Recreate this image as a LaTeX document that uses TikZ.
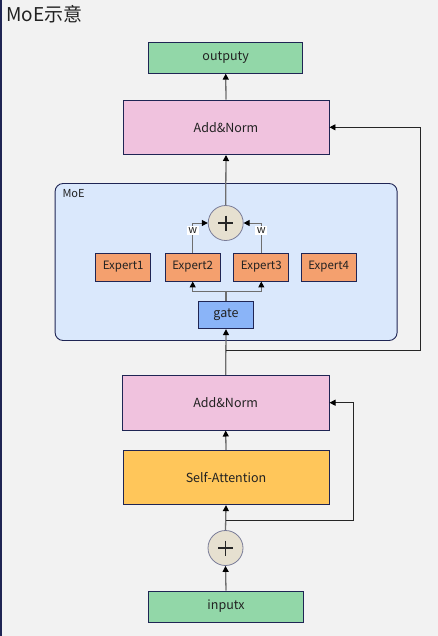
\documentclass[tikz,border=0pt]{standalone}
\usepackage{fontspec}
\setmainfont{Noto Sans CJK SC}
\usetikzlibrary{arrows.meta,calc}
\definecolor{bg}{HTML}{F2F2F2}
\definecolor{navy}{HTML}{1F2554}
\definecolor{cgreen}{HTML}{92D7A8}
\definecolor{cpink}{HTML}{F0C2DE}
\definecolor{corange}{HTML}{F4A06E}
\definecolor{cyellow}{HTML}{FFC65A}
\definecolor{cgate}{HTML}{8AB4F8}
\definecolor{cmoe}{HTML}{DAE8FC}
\definecolor{cplus}{HTML}{E6E0D0}
\definecolor{cline}{HTML}{6E6E6E}
\definecolor{ctext}{HTML}{222222}
\begin{document}
\begin{tikzpicture}[x=1pt,y=-1pt,
  box/.style={draw=navy,line width=0.9pt,rectangle,inner sep=0pt,text=ctext,font=\fontsize{12.5}{14}\selectfont},
  ebox/.style={box,fill=corange,minimum width=55pt,minimum height=28pt,font=\fontsize{11.5}{13}\selectfont},
  plusnode/.style={circle,draw=navy!60,fill=cplus,line width=0.8pt,minimum size=35pt,inner sep=0pt},
  flow/.style={draw=cline,line width=1.3pt,-{Triangle[length=6pt,width=6pt,color=black]}},
  flowplain/.style={draw=cline,line width=1.3pt},
  res/.style={draw=black!85,line width=0.9pt,-{Triangle[length=6pt,width=6pt,color=black]}},
  wlab/.style={fill=white,inner sep=1.5pt,font=\fontsize{11}{12}\selectfont,text=ctext}
]
\fill[bg] (0,0) rectangle (438,636);
\useasboundingbox (0,0) rectangle (438,636);
\draw[navy,line width=1.5pt] (0.75,0) -- (0.75,636);
\node[anchor=base west,font=\fontsize{19}{21}\selectfont,text=ctext] (title) at (3,21.5) {MoE示意};

% MoE container
\node[draw=navy,line width=0.9pt,fill=cmoe,rounded corners=8pt,minimum width=342pt,minimum height=157pt,inner sep=0pt] (moe) at (226.1,262) {};
\node[anchor=base west,font=\fontsize{11}{12}\selectfont,text=ctext] (moelab) at (59,197.5) {MoE};

\node[box,fill=cgreen,minimum width=154pt,minimum height=31pt] (out) at (225.7,57.7) {outputy};
\node[box,fill=cpink,minimum width=206pt,minimum height=54.5pt] (addtop) at (226,127.3) {Add\&Norm};
\node[plusnode] (plustop) at (225.7,223) {};
\node[ebox] (e1) at (123.2,267) {Expert1};
\node[ebox] (e2) at (192.7,267) {Expert2};
\node[ebox] (e3) at (261.3,267) {Expert3};
\node[ebox] (e4) at (328.7,267) {Expert4};
\node[box,fill=cgate,minimum width=54.6pt,minimum height=27.4pt] (gate) at (226,315) {gate};
\node[box,fill=cpink,minimum width=206.7pt,minimum height=54.7pt] (addbot) at (225.7,402.7) {Add\&Norm};
\node[box,fill=cyellow,minimum width=206pt,minimum height=54.4pt] (att) at (226,477.5) {Self-Attention};
\node[plusnode] (plusbot) at (225.5,548) {};
\node[box,fill=cgreen,minimum width=155.4pt,minimum height=31pt] (in) at (226,606.5) {inputx};

% plus signs
\foreach \p in {plustop,plusbot}{
  \draw[black!85,line width=1.6pt] ($(\p.center)+(-7.5,0)$) -- ($(\p.center)+(7.5,0)$);
  \draw[black!85,line width=1.6pt] ($(\p.center)+(0,-7.5)$) -- ($(\p.center)+(0,7.5)$);
}

% main flow
\draw[flow] (in.north) -- (plusbot.south);
\draw[flow] (plusbot.north) -- (att.south);
\draw[flow] (att.north) -- (addbot.south);
\draw[flow] (addbot.north) -- (gate.south);
\draw[flow] (plustop.north) -- (addtop.south);
\draw[flow] (addtop.north) -- (out.south);

% gate to experts
\coordinate (g) at (226,291);
\draw[flowplain] (gate.north) -- (g);
\draw[flow,line width=1pt] (g) -| (e2.south);
\draw[flow,line width=1pt] (g) -| (e3.south);

% experts to plus
\draw[flow,line width=1pt] (e2.north) |- (plustop.west) node[wlab,pos=0.38] (w1) {w};
\draw[flow,line width=1pt] (e3.north) |- (plustop.east) node[wlab,pos=0.38] (w2) {w};

% residuals
\coordinate (r1) at (226,520);
\draw[res] (r1) -| (353.3,402.7) -- (addbot.east);
\coordinate (r2) at (226,350.3);
\draw[res] (r2) -| (420.7,127.3) -- (addtop.east);
\end{tikzpicture}
\end{document}
